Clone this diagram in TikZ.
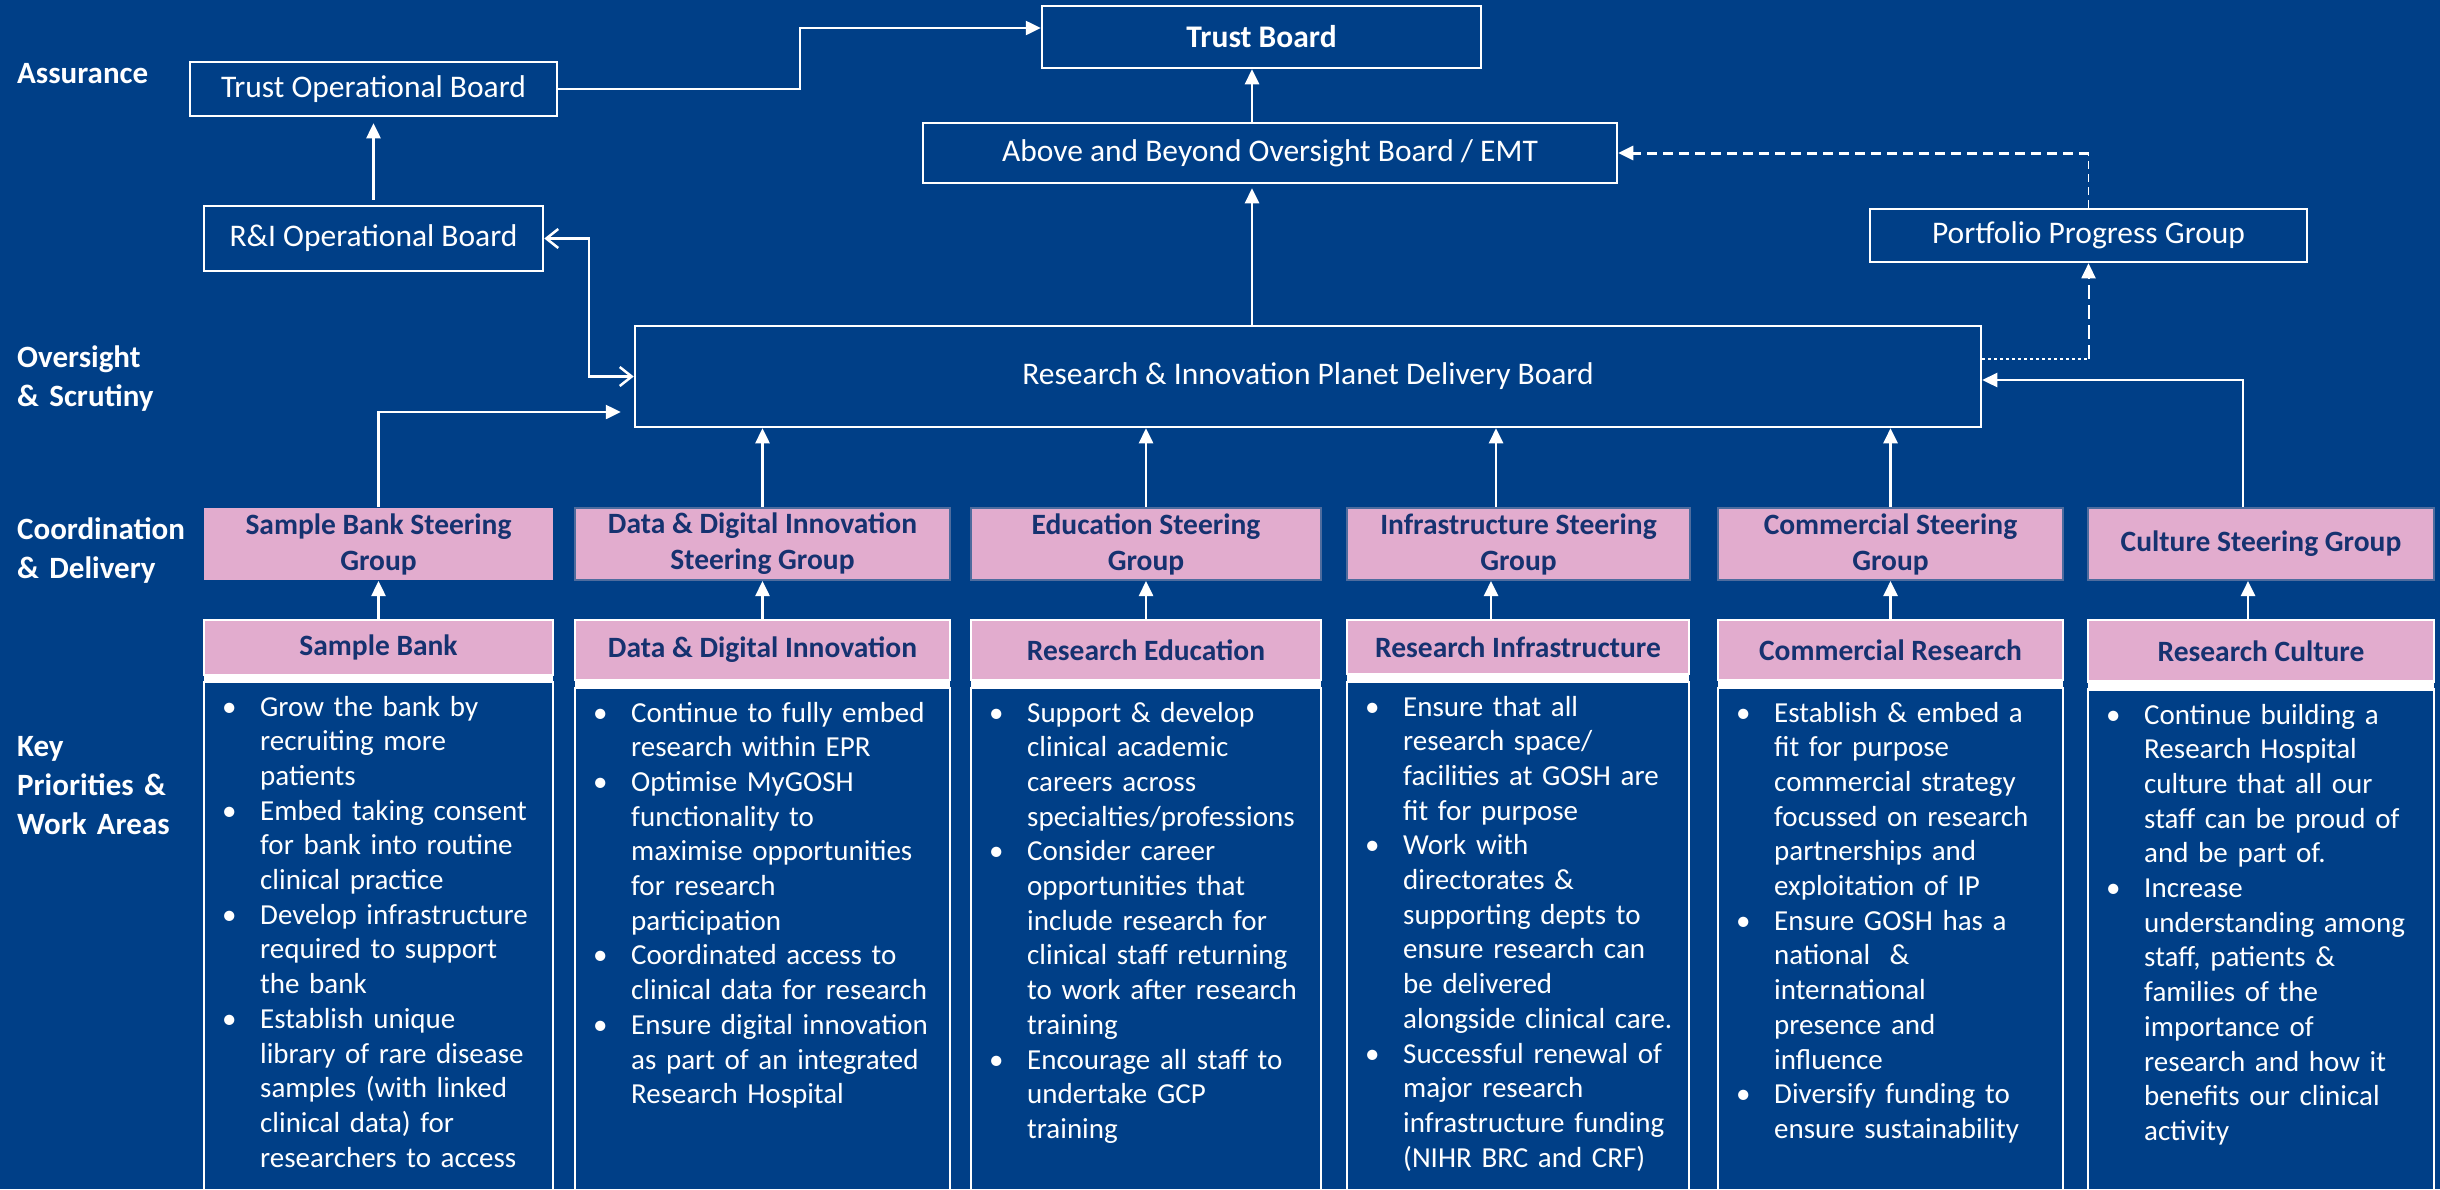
\documentclass[tikz,border=0pt]{standalone}
\usepackage{fontspec}
\setmainfont{Carlito}
\usetikzlibrary{arrows.meta}

\definecolor{navybg}{RGB}{0,63,135}
\definecolor{pinkbox}{RGB}{226,172,206}
\definecolor{inkblue}{RGB}{22,50,112}
\definecolor{steeredge}{RGB}{78,108,158}

% one bullet point with a hanging indent; lines are broken by hand
\newcommand{\bul}[1]{\hangindent=38pt\hangafter=1\noindent\makebox[38pt][l]{\textbullet}#1\par}

\tikzset{
  board/.style={draw=white, line width=2.5pt, text=white, inner sep=0pt,
    font=\fontsize{31.5}{38}\selectfont},
  steer/.style={fill=pinkbox, draw=steeredge, line width=2pt, text=inkblue,
    inner sep=0pt, align=center, minimum height=72pt,
    font=\bfseries\fontsize{29.5}{36}\selectfont},
  head/.style={fill=pinkbox, draw=white, line width=2.5pt, text=inkblue,
    inner sep=0pt, font=\bfseries\fontsize{29.5}{36}\selectfont},
  frame/.style={draw=white, line width=2.5pt},
  bullets/.style={anchor=base west, inner sep=0pt, text=white, align=left,
    text width=380pt, font=\fontsize{29}{34.7}\selectfont},
  tier/.style={anchor=base west, inner sep=0pt, text=white, align=left,
    text width=200pt, font=\bfseries\fontsize{31}{39}\selectfont},
  tipfill/.style={-{Triangle[length=15pt,width=14pt]}},
  arr/.style={draw=white, line width=2.5pt, tipfill},
  openarr/.style={draw=white, line width=2.5pt,
    {Straight Barb[length=12pt,width=19pt]}-{Straight Barb[length=12pt,width=19pt]}},
  dotline/.style={draw=white, line width=2pt, dash pattern=on 3pt off 3pt},
  longdash/.style={draw=white, line width=2pt, dash pattern=on 14pt off 6pt},
  thindash/.style={draw=white, line width=1.8pt, dash pattern=on 8pt off 5pt},
  thickdash/.style={draw=white, line width=3pt, dash pattern=on 10pt off 6pt},
}

\begin{document}
\begin{tikzpicture}[x=1pt,y=-1pt]
\useasboundingbox (0,0) rectangle (2440,1189);
\fill[navybg] (0,0) rectangle (2440,1189);
\clip (0,0) rectangle (2440,1189);

% ---- tier labels down the left side
\node[tier] (tAssur) at (17,83) {Assurance};
\node[tier] (tOver)  at (17,367) {Oversight\\\& Scrutiny};
\node[tier] (tCoord) at (17,539) {Coordination\\\& Delivery};
\node[tier] (tKey)   at (17,756) {Key\\Priorities \&\\Work Areas};

% ---- governance boards
\node[board, font=\bfseries\fontsize{31.5}{38}\selectfont,
      minimum width=439pt, minimum height=62pt] (TB) at (1261.5,37) {Trust Board};
\node[board, minimum width=367pt, minimum height=54pt] (TOB) at (373.5,89) {Trust Operational Board};
\node[board, minimum width=694pt, minimum height=60pt] (AB) at (1270,153) {Above and Beyond Oversight Board / EMT};
\node[board, minimum width=339pt, minimum height=65pt] (RIOB) at (373.5,238.5) {R\&I Operational Board};
\node[board, minimum width=437pt, minimum height=53pt] (PPG) at (2088.5,235.5) {Portfolio Progress Group};
\node[board, minimum width=1346pt, minimum height=101pt] (PDB) at (1308,376.5) {Research \& Innovation Planet Delivery Board};

% ---- steering groups
\node[steer, draw=none, minimum width=349pt] (sSB) at (378.5,544) {Sample Bank Steering\\Group};
\node[steer, minimum width=375pt] (sDD) at (762.5,544) {Data \& Digital Innovation\\Steering Group};
\node[steer, minimum width=350pt] (sED) at (1146,544) {Education Steering\\Group};
\node[steer, minimum width=343pt] (sIN) at (1518.5,544) {Infrastructure Steering\\Group};
\node[steer, minimum width=345pt] (sCO) at (1890.5,544) {Commercial Steering\\Group};
\node[steer, minimum width=346pt] (sCU) at (2261,544) {Culture Steering Group};

% ---- work area columns: frame, white band, pink heading
\fill[white] (204,675) rectangle (553,682);
\draw[frame] (204,682) rectangle (553,1200);
\node[head, minimum width=349pt, minimum height=55pt] (hSB) at (378.5,647.5) {Sample Bank};

\fill[white] (575,680) rectangle (950,688);
\draw[frame] (575,688) rectangle (950,1200);
\node[head, minimum width=375pt, minimum height=60pt] (hDD) at (762.5,650) {Data \& Digital Innovation};

\fill[white] (971,680) rectangle (1321,688);
\draw[frame] (971,688) rectangle (1321,1200);
\node[head, minimum width=350pt, minimum height=60pt] (hED) at (1146,650) {Research Education};

\fill[white] (1347,674) rectangle (1689,682);
\draw[frame] (1347,682) rectangle (1689,1200);
\node[head, minimum width=342pt, minimum height=54pt] (hIN) at (1518,647) {Research Infrastructure};

\fill[white] (1718,680) rectangle (2063,688);
\draw[frame] (1718,688) rectangle (2063,1200);
\node[head, minimum width=345pt, minimum height=60pt] (hCO) at (1890.5,650) {Commercial Research};

\fill[white] (2088,681.5) rectangle (2434,689.5);
\draw[frame] (2088,689.5) rectangle (2434,1200);
\node[head, minimum width=346pt, minimum height=61.5pt] (hCU) at (2261,650.75) {Research Culture};

% ---- bullet lists
\node[bullets] (bSB) at (222,716) {%
\bul{Grow the bank by\newline recruiting more\newline patients}
\bul{Embed taking consent\newline for bank into routine\newline clinical practice}
\bul{Develop infrastructure\newline required to support\newline the bank}
\bul{Establish unique\newline library of rare disease\newline samples (with linked\newline clinical data) for\newline researchers to access}};

\node[bullets] (bDD) at (593,722) {%
\bul{Continue to fully embed\newline research within EPR}
\bul{Optimise MyGOSH\newline functionality to\newline maximise opportunities\newline for research\newline participation}
\bul{Coordinated access to\newline clinical data for research}
\bul{Ensure digital innovation\newline as part of an integrated\newline Research Hospital}};

\node[bullets] (bED) at (989,722) {%
\bul{Support \& develop\newline clinical academic\newline careers across\newline specialties/professions}
\bul{Consider career\newline opportunities that\newline include research for\newline clinical staff returning\newline to work after research\newline training}
\bul{Encourage all staff to\newline undertake GCP\newline training}};

\node[bullets] (bIN) at (1365,716) {%
\bul{Ensure that all\newline research space/\newline facilities at GOSH are\newline fit for purpose}
\bul{Work with\newline directorates \&\newline supporting depts to\newline ensure research can\newline be delivered\newline alongside clinical care.}
\bul{Successful renewal of\newline major research\newline infrastructure funding\newline (NIHR BRC and CRF)}};

\node[bullets] (bCO) at (1736,722) {%
\bul{Establish \& embed a\newline fit for purpose\newline commercial strategy\newline focussed on research\newline partnerships and\newline exploitation of IP}
\bul{Ensure GOSH has a\newline national\ \ \&\newline international\newline presence and\newline influence}
\bul{Diversify funding to\newline ensure sustainability}};

\node[bullets] (bCU) at (2106,724) {%
\bul{Continue building a\newline Research Hospital\newline culture that all our\newline staff can be proud of\newline and be part of.}
\bul{Increase\newline understanding among\newline staff, patients \&\newline families of the\newline importance of\newline research and how it\newline benefits our clinical\newline activity}};

% ---- reporting lines at the top
\coordinate (knee) at (800,0);
\coordinate (tbIn) at ([yshift=9pt]TB.west);
\draw[arr] (TOB.east) -| (knee |- tbIn) -- (tbIn);
\draw[arr, shorten <=5pt, shorten >=6pt] (RIOB.north) -- (TOB.south);
\coordinate (abx) at ([xshift=-18pt]AB.north);
\draw[arr] (abx) -- (abx |- TB.south);
\draw[arr, shorten >=4pt] (PDB.north -| abx) -- (abx |- AB.south);

% two-way link between the R&I board and the delivery board
\coordinate (riKnee) at (589,0);
\draw[openarr] (RIOB.east) -| (riKnee |- PDB.west) -- (PDB.west);

% portfolio progress reporting (dashed)
\coordinate (pdbOut) at ([yshift=17.5pt]PDB.east);
\draw[dotline] (pdbOut) -- (pdbOut -| PPG.south);
\draw[longdash, tipfill] (pdbOut -| PPG.south) -- (PPG.south);
\draw[thindash] (PPG.north) -- (PPG.north |- AB.east);
\draw[thickdash, tipfill] (PPG.north |- AB.east) -- (AB.east);

% ---- steering groups report to the delivery board
\coordinate (pdbInSB) at ([yshift=-35.5pt]PDB.west);
\draw[arr, shorten >=13pt] (sSB.north) |- (pdbInSB);
\draw[arr] (sDD.north) -- (sDD.north |- PDB.south);
\draw[arr] (sED.north) -- (sED.north |- PDB.south);
\coordinate (upIN) at ([xshift=-22.5pt]sIN.north);
\draw[arr] (upIN) -- (upIN |- PDB.south);
\draw[arr] (sCO.north) -- (sCO.north |- PDB.south);
\coordinate (upCU) at ([xshift=-18pt]sCU.north);
\coordinate (pdbInCU) at ([yshift=-3.5pt]PDB.east);
\draw[arr] (upCU) |- (pdbInCU);

% ---- work areas feed their steering groups
\draw[arr] (hSB.north) -- (hSB.north |- sSB.south);
\draw[arr] (hDD.north) -- (hDD.north |- sDD.south);
\draw[arr] (hED.north) -- (hED.north |- sED.south);
\coordinate (upINh) at ([xshift=-27pt]hIN.north);
\draw[arr] (upINh) -- (upINh |- sIN.south);
\draw[arr] (hCO.north) -- (hCO.north |- sCO.south);
\coordinate (upCUh) at ([xshift=-13pt]hCU.north);
\draw[arr] (upCUh) -- (upCUh |- sCU.south);
\end{tikzpicture}
\end{document}
